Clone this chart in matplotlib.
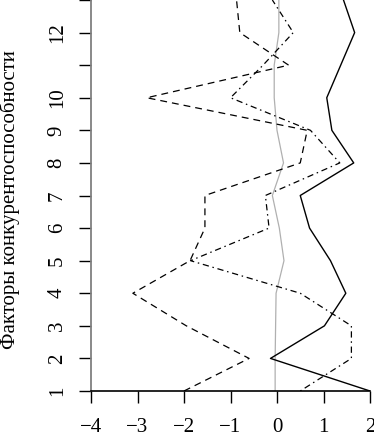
import matplotlib
matplotlib.use("Agg")
import matplotlib.pyplot as plt

factors = list(range(1, 14))
solid = [2.0, -0.14, 1.02, 1.48, 1.15, 0.70, 0.50, 1.65, 1.18, 1.07, 1.37, 1.67, 1.43]
dashed = [-2.0, -0.6, -1.95, -3.1, -1.87, -1.55, -1.55, 0.5, 0.65, -2.8, 0.25, -0.8, -0.87]
dashdot = [0.5, 1.6, 1.6, 0.5, -1.86, -0.17, -0.25, 1.35, 0.72, -1.0, -0.3, 0.35, -0.1]
gray = [-0.04, -0.04, -0.03, -0.02, 0.15, 0.05, -0.1, 0.14, 0.0, -0.06, -0.06, 0.04, 0.04]

xticks = [-4, -3, -2, -1, 0, 1, 2]
xticklabels = ["\u22124", "\u22123", "\u22122", "\u22121", "0", "1", "2"]
yticks = list(range(1, 14))
yticklabels = ["1", "2", "3", "4", "5", "6", "7", "8", "9", "10", "", "12", ""]
ylabel = "Факторы конкурентоспособности"

plt.rcParams['font.family'] = ['Liberation Serif', 'DejaVu Serif']

fig = plt.figure(figsize=(3.74, 4.37), dpi=100)
ax = fig.add_axes([91/374, 46/437, 279/374, 391/437])

ax.plot(gray, factors, color="#b0b0b0", lw=0.9)
ax.plot(solid, factors, color="black", lw=1.0)
ax.plot(dashed, factors, color="black", lw=0.9, linestyle=(0, (5.5, 4)))
ax.plot(dashdot, factors, color="black", lw=0.9, linestyle=(0, (1.2, 3, 5, 3)))

ax.set_xlim(-4, 2)
ax.set_ylim(1, 13.0)
ax.set_xticks(xticks)
ax.set_xticklabels(xticklabels, fontsize=15)
ax.set_yticks(yticks)
ax.set_yticklabels(yticklabels, fontsize=15, rotation=90, va="center")
ax.tick_params(axis="x", direction="out", length=8.5, width=1, pad=11)
ax.tick_params(axis="y", direction="out", length=8.5, width=1, pad=9)
ax.spines["top"].set_visible(False)
ax.spines["right"].set_visible(False)
ax.spines["left"].set_color("#808080")
ax.spines["left"].set_linewidth(1.3)
ax.spines["bottom"].set_linewidth(1.2)
ax.set_ylabel(ylabel, fontsize=15)
ax.yaxis.set_label_coords(-0.254, 0.49)

fig.savefig("out.png", dpi=100)
